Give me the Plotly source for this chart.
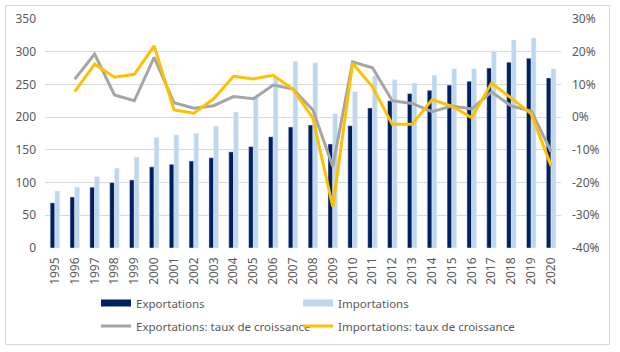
import plotly.graph_objects as go

years = [str(y) for y in range(1995, 2021)]
exports = [69, 78, 93, 100, 104, 124, 128, 133, 138, 147, 155, 170, 185, 188, 159, 187, 214, 225, 236, 241, 249, 255, 275, 284, 290, 260]
imports = [87, 93, 109, 122, 139, 169, 173, 175, 186, 208, 231, 262, 285, 283, 205, 239, 263, 257, 252, 264, 274, 274, 301, 318, 321, 274]
exp_growth = [None, 0.116, 0.193, 0.068, 0.050, 0.183, 0.044, 0.027, 0.035, 0.063, 0.056, 0.098, 0.086, 0.022,
              -0.151, 0.169, 0.151, 0.050, 0.042, 0.017, 0.034, 0.025, 0.077, 0.034, 0.019, -0.105]
imp_growth = [None, 0.078, 0.162, 0.122, 0.131, 0.218, 0.022, 0.012, 0.056, 0.125, 0.117, 0.128, 0.085, -0.003,
              -0.274, 0.165, 0.093, -0.022, -0.022, 0.053, 0.034, -0.002, 0.104, 0.058, 0.010, -0.149]

left_ticks = [0, 50, 100, 150, 200, 250, 300, 350]
left_labels = ["0", "50", "100", "150", "200", "250", "300", "350"]
right_ticks = [-0.4, -0.3, -0.2, -0.1, 0.0, 0.1, 0.2, 0.3]
right_labels = ["-40%", "-30%", "-20%", "-10%", "0%", "10%", "20%", "30%"]

names = ["Exportations", "Importations", "Exportations: taux de croissance", "Importations: taux de croissance"]

C_EXP = "#002060"
C_IMP = "#BDD7EE"
C_EG = "#A5A5A5"
C_IG = "#FFC000"
TXT = "#595959"
FONT = "Noto Sans"

fig = go.Figure()
fig.add_trace(go.Bar(x=years, y=exports, name=names[0], marker_color=C_EXP, showlegend=False))
fig.add_trace(go.Bar(x=years, y=imports, name=names[1], marker_color=C_IMP, showlegend=False))
fig.add_trace(go.Scatter(x=years, y=exp_growth, name=names[2], mode="lines", yaxis="y2",
                         line=dict(color=C_EG, width=3), legend="legend3"))
fig.add_trace(go.Scatter(x=years, y=imp_growth, name=names[3], mode="lines", yaxis="y2",
                         line=dict(color=C_IG, width=3), legend="legend4"))
# legend proxies for bars (rectangular swatches)
fig.add_trace(go.Scatter(x=[None], y=[None], name=names[0], mode="lines",
                         line=dict(color=C_EXP, width=7), legend="legend"))
fig.add_trace(go.Scatter(x=[None], y=[None], name=names[1], mode="lines",
                         line=dict(color=C_IMP, width=7), legend="legend2"))

L, R, T, B = 45, 59, 19, 104
W, H = 620, 352
pw, ph = W - L - R, H - T - B

def px_x(p):
    return (p - L) / pw

def px_y(p):
    return (H - B - p) / ph

def leg(xpx, ypx):
    return dict(orientation="h", xref="container", yref="container", x=xpx / W, y=1 - ypx / H,
                xanchor="left", yanchor="middle", font=dict(size=11.5, color=TXT, family=FONT),
                bgcolor="rgba(0,0,0,0)", itemwidth=30)

fig.update_layout(
    width=W, height=H,
    margin=dict(l=L, r=R, t=T, b=B, autoexpand=False),
    paper_bgcolor="white", plot_bgcolor="white",
    font=dict(family=FONT, size=12, color=TXT),
    barmode="group", bargap=0.52, bargroupgap=0,
    xaxis=dict(type="category", tickangle=-90, showgrid=False, zeroline=False, showline=False,
               ticks="", tickfont=dict(size=12, color=TXT), ticklabelstandoff=6, automargin=False),
    yaxis=dict(range=[0, 350], tickvals=left_ticks, ticktext=left_labels, showgrid=True,
               gridcolor="#D9D9D9", gridwidth=1, zeroline=False, showline=False, ticks="",
               tickfont=dict(size=12, color=TXT), ticklabelstandoff=8, automargin=False),
    yaxis2=dict(range=[-0.4, 0.3], tickvals=right_ticks, ticktext=right_labels, overlaying="y",
                side="right", showgrid=False, zeroline=False, showline=False, ticks="",
                tickfont=dict(size=12, color=TXT), ticklabelstandoff=10, automargin=False),
    legend=leg(96, 303),
    legend2=leg(298, 303),
    legend3=leg(96, 326),
    legend4=leg(298, 326),
    shapes=[dict(type="rect", xref="paper", yref="paper", x0=px_x(5.5), x1=px_x(609.5),
                 y0=px_y(344.5), y1=px_y(5.5), line=dict(color="#D9D9D9", width=1),
                 fillcolor="rgba(0,0,0,0)", layer="below")],
)

fig.write_html("out.html")
